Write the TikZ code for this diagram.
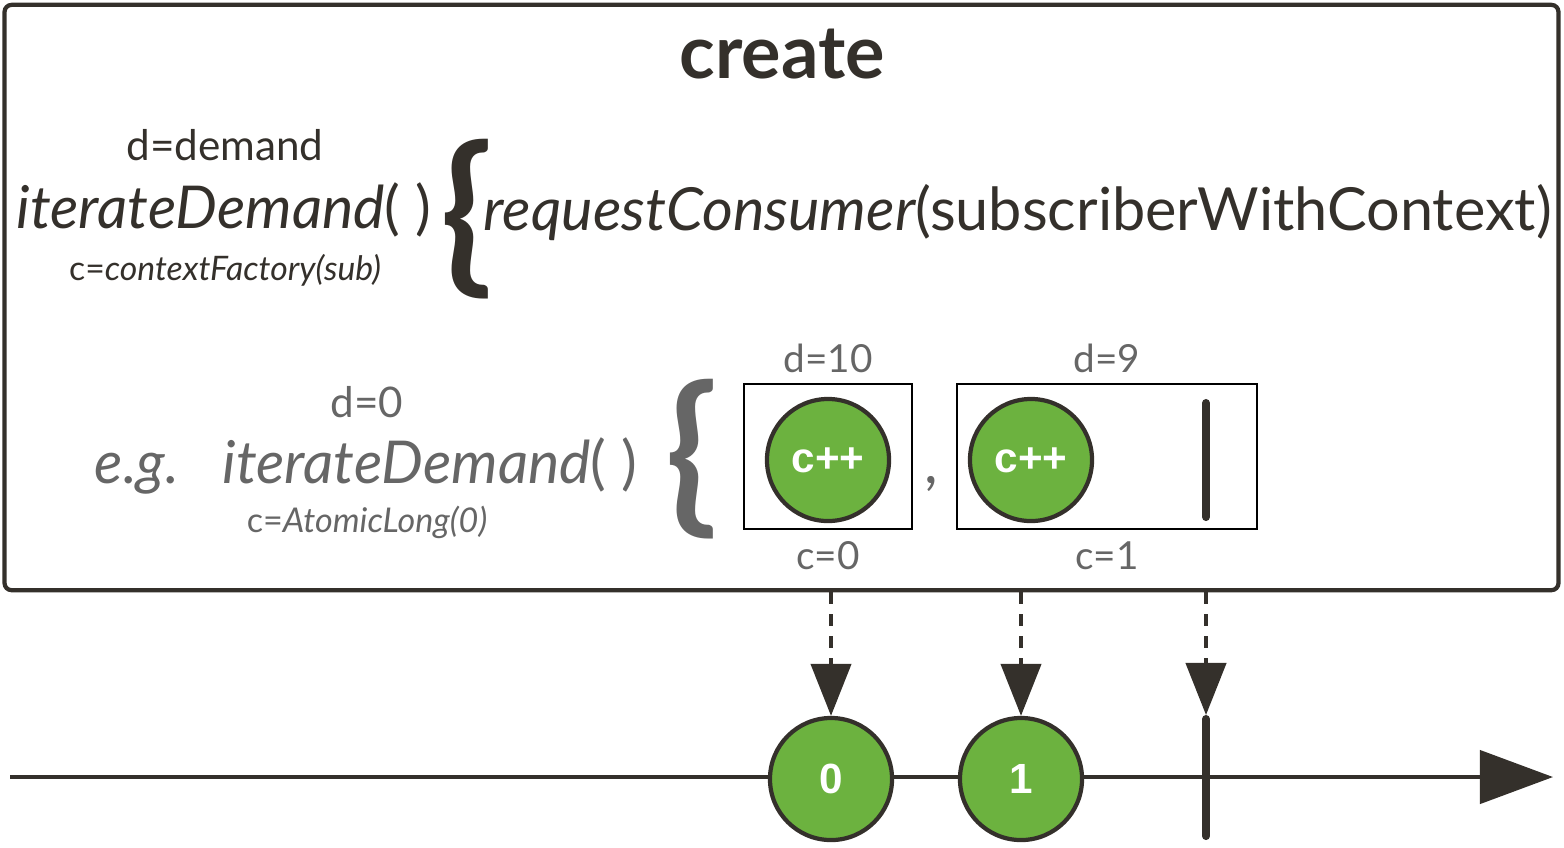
\documentclass[tikz,border=0pt]{standalone}
\usepackage{fontspec}
\setmainfont{Lato}
\newfontfamily\helv{Liberation Sans}
\usetikzlibrary{arrows.meta,positioning}

\definecolor{ink}{HTML}{34302B}
\definecolor{greytxt}{HTML}{666666}
\definecolor{marblegreen}{HTML}{6CB23F}

\tikzset{
  frame/.style={draw=ink, line width=1.2pt, rounded corners=2pt, minimum width=15.53cm, minimum height=5.85cm},
  marble/.style={circle, draw=ink, line width=1.2pt, fill=marblegreen, minimum size=1.22cm, inner sep=0pt,
    text=white, font=\helv\bfseries\fontsize{12}{12}\selectfont},
  box/.style={draw=black, line width=0.6pt, inner sep=0pt},
  lbl/.style={text=ink, inner sep=0pt, anchor=base},
  glbl/.style={text=greytxt, inner sep=0pt, anchor=base},
  brace/.style={inner sep=0pt, font=\bfseries\fontsize{49}{49}\selectfont},
  stop/.style={ink, line width=2.3pt, line cap=round},
  emit/.style={ink, line width=1.2pt, dash pattern=on 0.12cm off 0.1cm, -{Triangle[length=0.52cm,width=0.4cm]}},
  timeline/.style={ink, line width=1.2pt, -{Triangle[length=0.73cm,width=0.53cm]}}
}

\begin{document}
\begin{tikzpicture}[x=0.01cm, y=-0.01cm]
  \useasboundingbox (0,0) rectangle (1564,847);
  \node[frame] (frame) at (781.5,297.5) {};
  \node[lbl, font=\bfseries\fontsize{21}{21}\selectfont] (title) at (782,78) {create};

  % generic signature
  \node[lbl, font=\fontsize{12}{12}\selectfont] (demand) at (225,160) {d=demand};
  \node[lbl, font=\itshape\fontsize{16.8}{17}\selectfont] (iter) at (224,228) {iterateDemand\upshape( )};
  \node[lbl, font=\fontsize{9.6}{10}\selectfont] (ctx) at (225,280) {c=\itshape contextFactory(sub)};
  \node[brace, text=ink] (brace) at (467,219) {\{};
  \node[lbl, anchor=base west, font=\fontsize{16.9}{17}\selectfont] (req) at (483,230) {\itshape requestConsumer\upshape(subscriberWithContext)};

  % example
  \node[glbl, font=\fontsize{12}{12}\selectfont] (dzero) at (367,417) {d=0};
  \node[glbl, font=\itshape\fontsize{16.8}{17}\selectfont] (eg) at (137,483) {e.g.};
  \node[glbl, font=\itshape\fontsize{16.8}{17}\selectfont] (iter2) at (430,483) {iterateDemand\upshape( )};
  \node[glbl, font=\fontsize{9.7}{10}\selectfont] (czero) at (367,532) {c=\itshape AtomicLong(0)};
  \node[brace, text=greytxt] (brace2) at (692,459) {\{};

  \node[box, minimum width=1.68cm, minimum height=1.45cm] (box1) at (828,456.5) {};
  \node[box, minimum width=3.00cm, minimum height=1.45cm] (box2) at (1107,456.5) {};
  \node[marble] (out0) at (828,460) {c++};
  \node[marble] (out1) at (1031,460) {c++};
  \coordinate (done top) at (1206,403);
  \coordinate (done bot) at (1206,517);
  \draw[stop] (done top) -- (done bot);
  \node[glbl, font=\fontsize{17}{17}\selectfont] (comma) at (931,483) {,};
  \node[glbl, font=\fontsize{11}{11}\selectfont, above=0.09cm of box1] (dten) {d=10};
  \node[glbl, font=\fontsize{11}{11}\selectfont, above=0.09cm of box2] (dnine) {d=9};
  \node[glbl, font=\fontsize{11}{11}\selectfont, below=0.11cm of box1] (cfirst) {c=0};
  \node[glbl, font=\fontsize{11}{11}\selectfont, below=0.11cm of box2] (csecond) {c=1};

  % resulting flux
  \coordinate (tstart) at (10,777);
  \coordinate (tend) at (1553,777);
  \draw[timeline] (tstart) -- (tend);
  \node[marble] (mb0) at (831,779) {0};
  \node[marble] (mb1) at (1021,779) {1};
  \coordinate (end top) at (1206,719);
  \coordinate (end bot) at (1206,836);
  \draw[stop] (end top) -- (end bot);

  \draw[emit] (frame.south -| mb0) -- (mb0);
  \draw[emit] (frame.south -| mb1) -- (mb1);
  \draw[emit] (frame.south -| end top) -- ([yshift=0.04cm]end top);
\end{tikzpicture}
\end{document}
